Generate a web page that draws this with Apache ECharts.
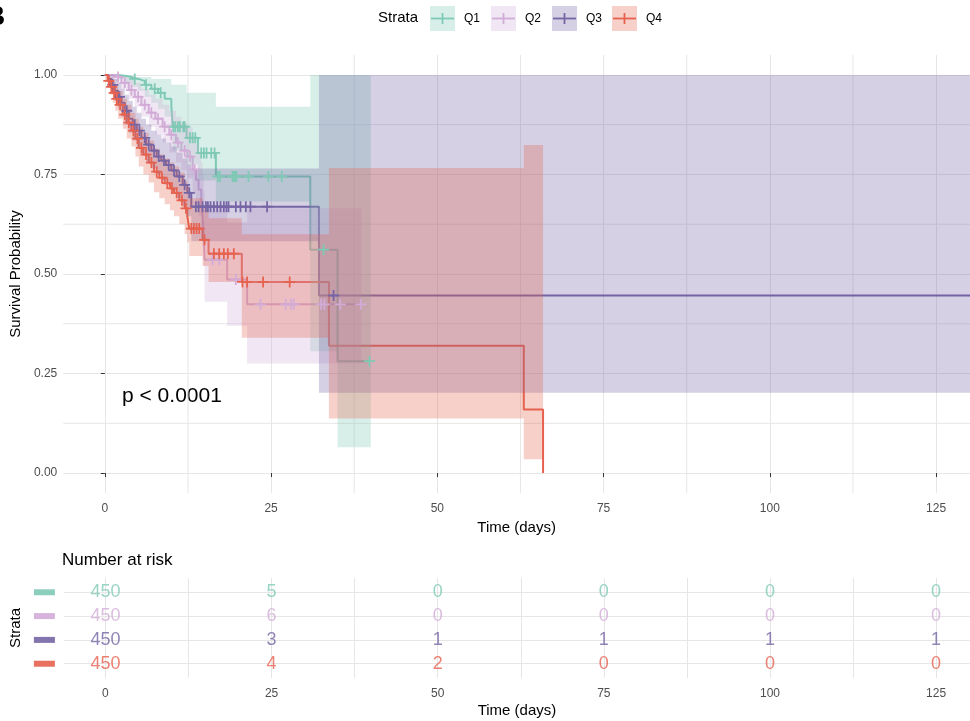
<!DOCTYPE html>
<html><head><meta charset="utf-8">
<script src="https://cdn.jsdelivr.net/npm/echarts@6/dist/echarts.min.js"></script>
<style>html,body{margin:0;padding:0;background:#fff;}#c{width:970px;height:721px;}</style>
</head><body><div id="c"></div>
<script>
const FONT = '"Liberation Sans", Arial, sans-serif';
const strata = ['Q1','Q2','Q3','Q4'];
const colors = ['#7fc9b5','#d2acd7','#7565a5','#e6624f'];

// Q1
const q1Time  = [0, 1, 2, 3, 4, 5, 6, 7, 8, 9, 10, 10.2, 12.3, 14, 16.7, 30.9, 35, 40];
const q1Surv  = [1, 1, 0.998, 0.995, 0.99, 0.985, 0.975, 0.965, 0.955, 0.94, 0.925, 0.87, 0.842, 0.804, 0.745, 0.561, 0.281, 0.281];
const q1Upper = [1, 1, 1, 1, 0.995, 0.995, 0.995, 0.99, 0.99, 0.99, 0.975, 0.975, 0.955, 0.955, 0.92, 1, 1, 1];
const q1Lower = [1, 1, 0.99, 0.98, 0.97, 0.96, 0.945, 0.93, 0.915, 0.895, 0.875, 0.81, 0.775, 0.735, 0.682, 0.306, 0.065, 0.065];
const q1Censor = [4.5, 6.2, 7.5, 8.4, 10.3, 10.6, 11, 11.3, 11.8, 12.0, 12.8, 13.2, 13.6, 14.5, 14.9, 15.3, 16.0, 16.5, 17, 17.3, 19.2, 19.4, 19.6, 19.8, 21.6, 24.6, 26.6, 32.9, 39.8];

// Q2
const q2Time  = [0, 0.8, 1.5, 2.5, 3.6, 4.5, 5.5, 6.6, 7.6, 8.7, 9.7, 10.7, 11.5, 12.4, 13.2, 13.7, 14.1, 14.5, 14.7, 14.85, 15.0, 18.4, 21.4, 38.6];
const q2Surv  = [1, 1, 0.995, 0.98, 0.962, 0.945, 0.925, 0.905, 0.89, 0.87, 0.85, 0.83, 0.81, 0.795, 0.762, 0.737, 0.712, 0.68, 0.645, 0.6, 0.536, 0.486, 0.424, 0.424];
const q2Upper = [1, 1, 1, 0.995, 0.99, 0.98, 0.965, 0.95, 0.94, 0.925, 0.91, 0.895, 0.88, 0.87, 0.845, 0.825, 0.805, 0.78, 0.75, 0.71, 0.665, 0.63, 0.665, 0.665];
const q2Lower = [1, 1, 0.985, 0.965, 0.94, 0.92, 0.895, 0.87, 0.85, 0.83, 0.805, 0.78, 0.76, 0.74, 0.70, 0.675, 0.645, 0.61, 0.57, 0.52, 0.43, 0.37, 0.275, 0.275];
const q2Censor = [2, 3, 4, 5, 6, 7, 8, 9, 10, 11, 12, 12.8, 13.5, 16.2, 17.2, 19.7, 23.4, 27.2, 28.0, 28.4, 32.5, 33.0, 35.4, 38.5];

// Q3
const q3Time  = [0, 0.5, 1, 1.5, 2, 2.5, 3, 3.6, 4.2, 4.8, 5.5, 6.2, 7, 7.8, 8.5, 9.2, 10, 10.8, 11.7, 12.4, 13.0, 32.2, 131];
const q3Surv  = [1, 0.99, 0.975, 0.96, 0.945, 0.93, 0.91, 0.89, 0.875, 0.86, 0.842, 0.825, 0.81, 0.795, 0.785, 0.774, 0.76, 0.745, 0.724, 0.704, 0.669, 0.446, 0.446];
const q3Upper = [1, 1, 1, 0.99, 0.98, 0.965, 0.95, 0.935, 0.92, 0.905, 0.89, 0.875, 0.86, 0.85, 0.84, 0.83, 0.82, 0.805, 0.79, 0.775, 0.765, 1, 1];
const q3Lower = [1, 0.975, 0.955, 0.935, 0.915, 0.895, 0.875, 0.855, 0.835, 0.82, 0.8, 0.78, 0.765, 0.75, 0.735, 0.725, 0.71, 0.69, 0.67, 0.645, 0.582, 0.202, 0.202];
const q3Censor = [1.2, 2.2, 3.3, 4.5, 5.2, 6.0, 6.6, 7.4, 8.1, 8.9, 9.6, 10.4, 11.2, 12.0, 12.7, 13.7, 14.1, 14.7, 15.2, 15.5, 15.9, 16.4, 16.9, 17.4, 17.9, 18.3, 18.6, 19.7, 20.4, 21.2, 21.9, 24.4, 34.4];

// Q4
const q4Time  = [0, 0.4, 0.8, 1.2, 1.6, 2.0, 2.7, 3.3, 4.0, 4.6, 5.1, 5.8, 6.6, 7.4, 8.2, 9.0, 9.8, 10.4, 11.2, 12.0, 12.4, 12.7, 14.7, 15.6, 20.6, 33.7, 63, 65.9];
const q4Surv  = [1, 0.985, 0.97, 0.955, 0.94, 0.925, 0.9, 0.88, 0.86, 0.84, 0.817, 0.8, 0.78, 0.757, 0.742, 0.728, 0.715, 0.704, 0.685, 0.665, 0.645, 0.614, 0.586, 0.551, 0.48, 0.32, 0.16, 0];
const q4Upper = [1, 1, 0.995, 0.985, 0.975, 0.96, 0.94, 0.925, 0.905, 0.89, 0.87, 0.855, 0.835, 0.815, 0.8, 0.79, 0.78, 0.77, 0.755, 0.735, 0.72, 0.69, 0.665, 0.64, 0.6, 0.766, 0.824, 0.824];
const q4Lower = [1, 0.97, 0.95, 0.93, 0.91, 0.89, 0.865, 0.84, 0.82, 0.795, 0.77, 0.75, 0.73, 0.705, 0.69, 0.675, 0.66, 0.645, 0.625, 0.6, 0.58, 0.545, 0.52, 0.48, 0.34, 0.137, 0.035, 0.035];
const q4Censor = [0.6, 1.0, 1.4, 1.8, 2.3, 3.0, 3.6, 4.3, 4.9, 5.5, 6.2, 7.0, 7.8, 8.6, 9.4, 10.1, 10.8, 11.6, 12.2, 13.0, 13.4, 13.8, 14.2, 15.0, 16.4, 17.2, 17.9, 18.5, 19.4, 20.7, 21.4, 23.8, 27.8];

// Number at risk
const riskTimes = [0, 25, 50, 75, 100, 125];
const riskQ1 = [450, 5, 0, 0, 0, 0];
const riskQ2 = [450, 6, 0, 0, 0, 0];
const riskQ3 = [450, 3, 1, 1, 1, 1];
const riskQ4 = [450, 4, 2, 0, 0, 0];

const xTicks = [0, 25, 50, 75, 100, 125];
const xMinor = [12.5, 37.5, 62.5, 87.5, 112.5];
const xAllGrid = [0, 12.5, 25, 37.5, 50, 62.5, 75, 87.5, 100, 112.5, 125];
const yTicks = [0, 0.25, 0.5, 0.75, 1];
const yMinor = [0.125, 0.375, 0.625, 0.875];

const curves = [
  {time:q1Time, surv:q1Surv, upper:q1Upper, lower:q1Lower, cens:q1Censor, risk:riskQ1},
  {time:q2Time, surv:q2Surv, upper:q2Upper, lower:q2Lower, cens:q2Censor, risk:riskQ2},
  {time:q3Time, surv:q3Surv, upper:q3Upper, lower:q3Lower, cens:q3Censor, risk:riskQ3},
  {time:q4Time, surv:q4Surv, upper:q4Upper, lower:q4Lower, cens:q4Censor, risk:riskQ4}
];

function stepAt(times, vals, t){ let v = vals[0]; for (let i=0;i<times.length;i++){ if (times[i] <= t) v = vals[i]; else break; } return v; }
function rgba(hex, a){ const n=parseInt(hex.slice(1),16); return 'rgba('+((n>>16)&255)+','+((n>>8)&255)+','+(n&255)+','+a+')'; }

const T = 'rgba(0,0,0,0)';
const G = '#e6e6e6';
const rowGridColors = [T, T, T, G, T];             // ticks every 0.2 from 0.4
const plusPath = 'path://M4.2,0H5.8V4.2H10V5.8H5.8V10H4.2V5.8H0V4.2H4.2Z';

const series = [];
// minor grid lines of the main panel (drawn under everything)
series.push({type:'custom', xAxisIndex:0, yAxisIndex:0, z:0, silent:true,
  data:xMinor.map(v=>[v, 0]),
  renderItem:function(params, api){
    const cs = params.coordSys; const p = api.coord([api.value(0), 0]);
    return {type:'line', shape:{x1:p[0], y1:cs.y, x2:p[0], y2:cs.y+cs.height}, style:{stroke:G, lineWidth:1}};
  }});
series.push({type:'custom', xAxisIndex:0, yAxisIndex:0, z:0, silent:true,
  data:yMinor.map(v=>[0, v]),
  renderItem:function(params, api){
    const cs = params.coordSys; const p = api.coord([0, api.value(1)]);
    return {type:'line', shape:{x1:cs.x, y1:p[1], x2:cs.x+cs.width, y2:p[1]}, style:{stroke:G, lineWidth:1}};
  }});

curves.forEach((c,i)=>{
  series.push({type:'line', xAxisIndex:0, yAxisIndex:0, step:'end', symbol:'none', z:2,
    data:c.time.map((t,k)=>[t,c.surv[k]]), lineStyle:{color:colors[i], width:2}});
});
curves.forEach((c,i)=>{
  series.push({type:'custom', xAxisIndex:0, yAxisIndex:0, z:3, silent:true, clip:true,
    data:c.time.map((t,k)=>[t, c.lower[k], c.upper[k]]),
    renderItem:function(params, api){
      if (params.dataIndex !== 0) return null;
      const top = [], bot = [];
      for (let k=0;k<c.time.length-1;k++){
        const t0=c.time[k], t1=c.time[k+1];
        top.push(api.coord([t0, c.upper[k]])); top.push(api.coord([t1, c.upper[k]]));
        bot.push(api.coord([t0, c.lower[k]])); bot.push(api.coord([t1, c.lower[k]]));
      }
      const pts = top.concat(bot.reverse());
      return {type:'polygon', shape:{points:pts}, style:{fill:rgba(colors[i],0.3)}};
    }});
});
curves.forEach((c,i)=>{
  series.push({type:'scatter', xAxisIndex:0, yAxisIndex:0, symbol:plusPath, symbolSize:[11,11], z:4,
    data:c.cens.map(t=>[t, stepAt(c.time,c.surv,t)]), itemStyle:{color:colors[i], opacity:1}});
});
curves.forEach((c,i)=>{
  series.push({type:'scatter', xAxisIndex:1, yAxisIndex:1, symbolSize:1, z:5,
    itemStyle:{color:T},
    data:riskTimes.map((t,k)=>[t, 4-i, c.risk[k]]),
    label:{show:true, position:'inside', formatter:p=>String(p.value[2]), color:colors[i], fontSize:18, fontFamily:FONT}});
});

const rich = {};
colors.forEach((c,i)=>{ rich['r'+i] = {backgroundColor:rgba(c,0.9), width:21, height:6}; });

function xAxisCfg(grid, withTicks){
  return {gridIndex:grid, type:'value', min:-6.25, max:130.1, interval:6.25,
    axisLine:{show:false},
    axisTick:{show:withTicks, customValues: withTicks ? xTicks : xAllGrid, length:4, lineStyle:{color:'#333'}},
    axisLabel:{customValues:xTicks, color:'#4d4d4d', fontSize:12, fontFamily:FONT, margin:10,
      formatter:v=> (Math.abs(v/25-Math.round(v/25))<1e-6 && v>=0 && v<=125) ? String(Math.round(v)) : ''},
    splitLine:{show:true, showMinLine:true, showMaxLine:true, lineStyle:{color:G, width:1}},
    name:'Time (days)', nameLocation:'middle', nameGap:25, nameTextStyle:{color:'#000', fontSize:15, fontFamily:FONT}};
}

const option = {
  animation:false,
  backgroundColor:'#fff',
  textStyle:{fontFamily:FONT},
  grid:[
    {left:62, right:0, top:55, height:438},
    {left:62, right:0, top:578, height:100}
  ],
  xAxis:[ xAxisCfg(0,true), xAxisCfg(1,false) ],
  yAxis:[
    {gridIndex:0, type:'value', min:-0.05, max:1.05, interval:0.025,
     axisLine:{show:false},
     axisTick:{show:true, customValues:yTicks, length:4, lineStyle:{color:'#333'}},
     axisLabel:{customValues:yTicks, color:'#4d4d4d', fontSize:12, fontFamily:FONT, margin:6,
       formatter:v=> (Math.abs(v*4-Math.round(v*4))<1e-6 && v>=0) ? v.toFixed(2) : ''},
     splitLine:{show:true, showMinLine:true, showMaxLine:true, lineStyle:{color:G, width:1}},
     name:'Survival Probability', nameLocation:'middle', nameRotate:90, nameGap:36,
     nameTextStyle:{color:'#000', fontSize:15, fontFamily:FONT}},
    {gridIndex:1, type:'value', min:0.4, max:4.6, interval:0.2,
     axisLine:{show:false}, axisTick:{show:false},
     axisLabel:{customValues:[1,2,3,4], margin:9, rich:rich,
       formatter:v=>{ const r=Math.round(v); if (Math.abs(v-r)>1e-6 || r<1 || r>4) return ''; return '{r'+(4-r)+'|}'; }},
     splitLine:{show:true, showMinLine:true, showMaxLine:true, lineStyle:{color:rowGridColors, width:1}},
     name:'Strata', nameLocation:'middle', nameRotate:90, nameGap:36,
     nameTextStyle:{color:'#000', fontSize:15, fontFamily:FONT}}
  ],
  series:series,
  graphic:(function(){
    const g = [];
    g.push({type:'text', x:-15, y:3, style:{text:'B', font:'bold 28px '+FONT, fill:'#000'}});
    g.push({type:'text', x:378, y:18, style:{text:'Strata', fontSize:15, fontFamily:FONT, fill:'#000', verticalAlign:'middle'}});
    const bx = [430, 491, 552, 612];
    strata.forEach((s,i)=>{
      g.push({type:'rect', shape:{x:bx[i], y:6, width:25, height:25}, style:{fill:rgba(colors[i],0.3)}});
      g.push({type:'line', shape:{x1:bx[i]+1, y1:18.5, x2:bx[i]+24, y2:18.5}, style:{stroke:colors[i], lineWidth:1.8}});
      g.push({type:'line', shape:{x1:bx[i]+12.5, y1:13, x2:bx[i]+12.5, y2:24}, style:{stroke:colors[i], lineWidth:1.8}});
      g.push({type:'text', x:bx[i]+34, y:18.5, style:{text:s, fontSize:12, fontFamily:FONT, fill:'#000', verticalAlign:'middle'}});
    });
    g.push({type:'text', x:62, y:560, style:{text:'Number at risk', fontSize:17, fontFamily:FONT, fill:'#000', verticalAlign:'middle'}});
    g.push({type:'text', x:122, y:396, style:{text:'p < 0.0001', fontSize:21, fontFamily:FONT, fill:'#000', verticalAlign:'middle'}});
    return g;
  })()
};
const chart = echarts.init(document.getElementById('c'), null, {renderer:'canvas'});
chart.setOption(option);
</script></body></html>
